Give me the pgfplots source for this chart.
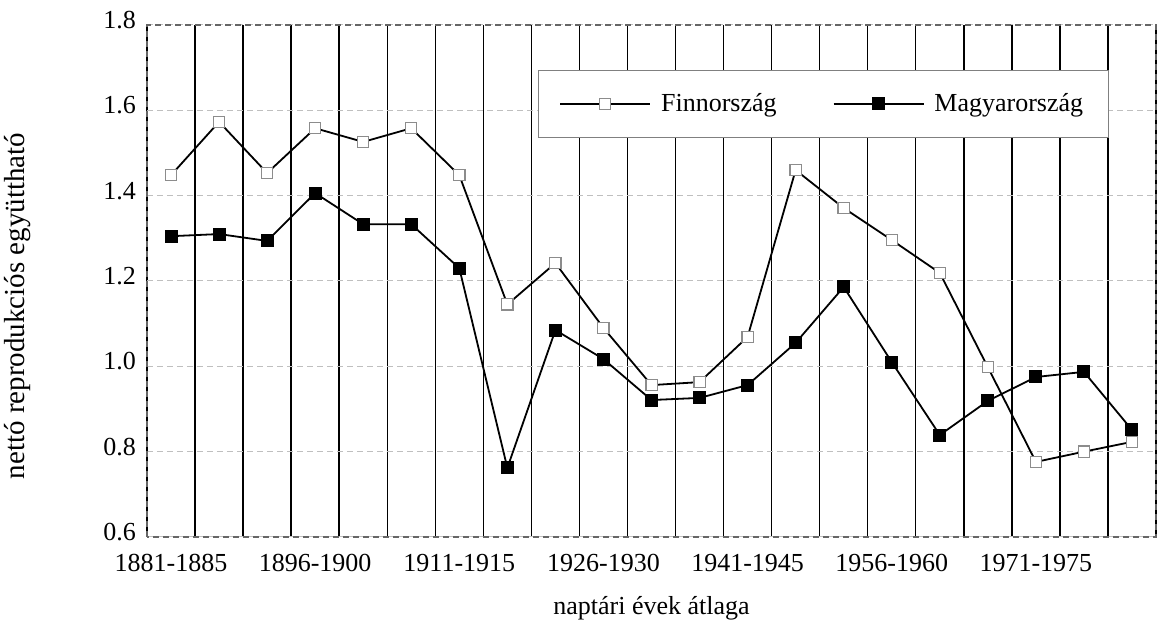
\documentclass[border=0pt]{standalone}
\usepackage{pgfplots}
\pgfplotsset{compat=1.18}
\usepackage{fontspec}
\setmainfont{Liberation Serif}
\begin{document}
\begin{tikzpicture}
\begin{axis}[
  name=ax,
  scale only axis,
  width=504.5pt, height=256pt,
  xmin=-0.5, xmax=20.5,
  ymin=0.6, ymax=1.8,
  xtick={0,3,6,9,12,15,18},
  xticklabels={1881-1885,1896-1900,1911-1915,1926-1930,1941-1945,1956-1960,1971-1975},
  minor xtick={-0.5,0.5,...,20.5},
  ytick={0.6,0.8,1.0,1.2,1.4,1.6,1.8},
  major tick length=0pt, minor tick length=0pt,
  xminorgrids=true,
  minor x grid style={black, line width=0.7pt},
  ymajorgrids=true,
  major y grid style={black!25, densely dashed, line width=0.5pt},
  axis line style={black!60, densely dashed, line width=0.6pt},
  /pgf/number format/.cd, fixed, fixed zerofill, precision=1, assume math mode=true,
  /pgfplots/.cd,
  tick label style={font=\fontsize{13}{15}\selectfont},
  xticklabel style={yshift=-5pt},
  yticklabel style={xshift=-2pt, yshift=2.5pt},
  xlabel={naptári évek átlaga},
  ylabel={nettó reprodukciós együttható},
  every axis x label/.style={at={(axis description cs:0.5,-0.1387)}, anchor=center, font=\fontsize{13}{15}\selectfont},
  every axis y label/.style={at={(axis description cs:-0.1279,0.4512)}, rotate=90, anchor=center, font=\fontsize{14.5}{16}\selectfont},
  legend columns=2,
  legend style={at={(0.953,0.912)}, anchor=north east, draw=black!50, fill=white,
    font=\fontsize{13}{15}\selectfont, inner xsep=10.5pt, inner ysep=9.5pt,
    /tikz/every odd column/.append style={column sep=3pt},
    /tikz/every even column/.append style={column sep=26pt}},
  legend image code/.code={\draw[mark repeat=2,mark phase=2,#1] plot coordinates {(0pt,0pt) (22.5pt,0pt) (45pt,0pt)};},
]
\addplot[black, line width=0.9pt, mark=square*, mark size=2.8pt, mark options={fill=white, draw=black!45, line width=0.6pt}] coordinates {
(0,1.448) (1,1.573) (2,1.453) (3,1.558) (4,1.526) (5,1.558) (6,1.448)
(7,1.145) (8,1.242) (9,1.09) (10,0.956) (11,0.963) (12,1.069) (13,1.46)
(14,1.371) (15,1.296) (16,1.219) (17,0.998) (18,0.776) (19,0.80) (20,0.823)
};
\addlegendentry{Finnország}
\addplot[black, line width=0.9pt, mark=square*, mark size=2.8pt, mark options={fill=black}] coordinates {
(0,1.305) (1,1.31) (2,1.294) (3,1.406) (4,1.333) (5,1.333) (6,1.23)
(7,0.762) (8,1.085) (9,1.017) (10,0.921) (11,0.926) (12,0.956) (13,1.055)
(14,1.186) (15,1.01) (16,0.839) (17,0.919) (18,0.975) (19,0.987) (20,0.851)
};
\addlegendentry{Magyarország}
\end{axis}
\pgfresetboundingbox
\path ([xshift=-73.5pt,yshift=-44.5pt]ax.south west) rectangle ([xshift=3pt,yshift=12.5pt]ax.north east);
\end{tikzpicture}
\end{document}
